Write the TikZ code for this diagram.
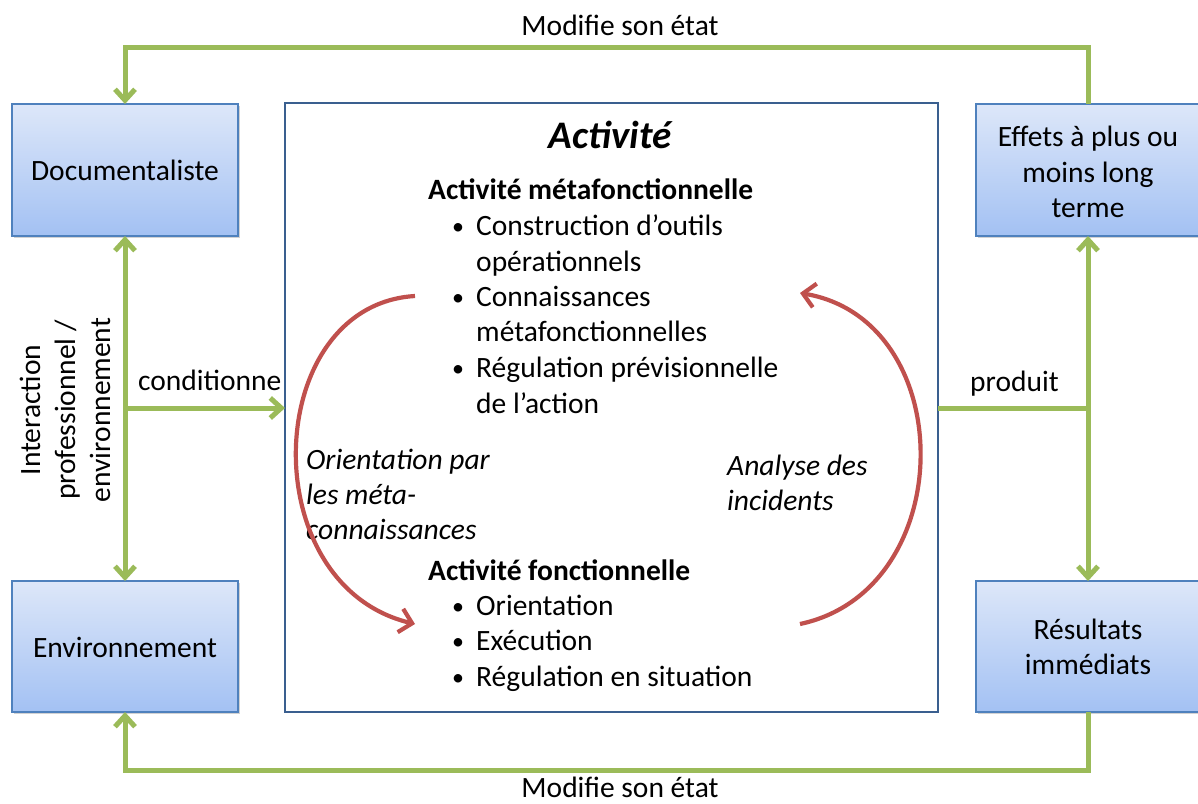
\documentclass[tikz,border=0pt]{standalone}
\usepackage{fontspec}
\setmainfont{Carlito}
\usetikzlibrary{arrows.meta,shadows}
\definecolor{grn}{HTML}{9BBB59}
\definecolor{redc}{HTML}{C0504D}
\definecolor{boxb}{HTML}{4F81BD}
\definecolor{cbox}{HTML}{3A5F8F}
\definecolor{btop}{HTML}{DDE7F9}
\definecolor{bbot}{HTML}{A3C1F3}
\begin{document}
\begin{tikzpicture}[x=1pt,y=-1pt,
  bluebox/.style={draw=boxb,line width=1.2pt,top color=btop,bottom color=bbot,
     drop shadow={shadow xshift=2pt,shadow yshift=-2pt,fill=black!35},
     align=center,inner sep=0pt},
  gline/.style={draw=grn,line width=5pt},
  garrow/.style={gline,-{Straight Barb[length=11pt,width=20pt,line width=5pt]}},
  gdarrow/.style={gline,{Straight Barb[length=11pt,width=20pt,line width=5pt]}-{Straight Barb[length=11pt,width=20pt,line width=5pt]}},
  rarrow/.style={draw=redc,line width=4.2pt,-{Straight Barb[length=12pt,width=24pt,line width=4.2pt]}},
  txt/.style={font=\fontsize{29.5}{35.5}\selectfont,inner sep=0pt},
  btxt/.style={txt,font=\fontsize{29.5}{35.5}\selectfont\bfseries},
  itxt/.style={txt,font=\fontsize{29.5}{35.5}\selectfont\itshape}]
\useasboundingbox (0,0) rectangle (1198,803);
\fill[white] (0,0) rectangle (1198,803);
% boxes
\path[bluebox] (12,104) rectangle (238,236);
\node[txt] (doc) at (125,170) {Documentaliste};
\coordinate (docT) at (125,104);
\coordinate (docB) at (125,236);
\path[bluebox] (12,581) rectangle (238,712);
\node[txt] (env) at (125,647) {Environnement};
\coordinate (envT) at (125,581);
\coordinate (envB) at (125,712);
\path[bluebox] (976,104) rectangle (1202,236);
\node[txt,align=center] (eff) at (1088,172) {Effets à plus ou\\moins long\\terme};
\coordinate (effT) at (1088,104);
\coordinate (effB) at (1088,236);
\path[bluebox] (976,581) rectangle (1202,712);
\node[txt,align=center] (res) at (1088,647) {Résultats\\immédiats};
\coordinate (resT) at (1088,581);
\coordinate (resB) at (1088,712);
% central box
\draw[cbox,line width=2.5pt] (285,103) rectangle (938,712);
\coordinate (cL) at (285,408);
\coordinate (cR) at (938,408);
% green connectors
\coordinate (tR) at (1088,47);
\coordinate (tL) at (125,47);
\coordinate (bR) at (1088,770);
\coordinate (bL) at (125,770);
\draw[garrow] (effT) -- (tR) -- (tL) -- (docT);
\draw[garrow] (resB) -- (bR) -- (bL) -- (envB);
\draw[gdarrow] (docB) -- (envT);
\draw[gdarrow] (effB) -- (resT);
\coordinate (lJ) at (125,408);
\coordinate (rJ) at (1088,408);
\draw[garrow] (lJ) -- (cL);
\draw[gline] (cR) -- (rJ);
% labels
\node[txt] (mt) at (620,25) {Modifie son état};
\node[txt,anchor=base] (mb) at (620,797) {Modifie son état};
\node[txt,anchor=base west] (cond) at (138,390) {conditionne};
\node[txt,anchor=base west] (prod) at (970,391) {produit};
\node[txt,align=center,rotate=90,font=\fontsize{29.5}{35}\selectfont] (inter) at (65,410) {Interaction\\professionnel /\\environnement};
% central text
\node[txt,font=\fontsize{39}{44}\selectfont\bfseries\itshape] (act) at (610,135) {Activité};
\node[btxt,anchor=base west] (meta) at (428,199) {Activité métafonctionnelle};
\foreach \y/\b/\t in {235/1/Construction d’outils,271/0/opérationnels,306/1/Connaissances,341/0/métafonctionnelles,377/1/Régulation prévisionnelle,413/0/de l’action,615/1/Orientation,650/1/Exécution,686/1/Régulation en situation}{
  \node[txt,anchor=base west] at (476,\y) {\t};
  \ifnum\b=1 \node[txt,anchor=base west,font=\fontsize{24}{30}\selectfont] at (452,\y-1) {•};\fi
}
\node[btxt,anchor=base west] (fonc) at (428,580) {Activité fonctionnelle};
\node[itxt,anchor=base west] (or1) at (306,469) {Orientation par};
\node[itxt,anchor=base west] (or2) at (306,504) {les méta-};
\node[itxt,anchor=base west] (or3) at (306,539) {connaissances};
\node[itxt,anchor=base west] (an1) at (727,475) {Analyse des};
\node[itxt,anchor=base west] (an2) at (727,510) {incidents};
% red arcs
\coordinate (a1s) at (415,296);
\coordinate (a1e) at (415,624);
\coordinate (a2s) at (800,624);
\coordinate (a2e) at (800,293);
\draw[rarrow] (a1s) .. controls (262,305) and (252,585) .. (a1e);
\draw[rarrow] (a2s) .. controls (960,590) and (960,320) .. (a2e);
\end{tikzpicture}
\end{document}
